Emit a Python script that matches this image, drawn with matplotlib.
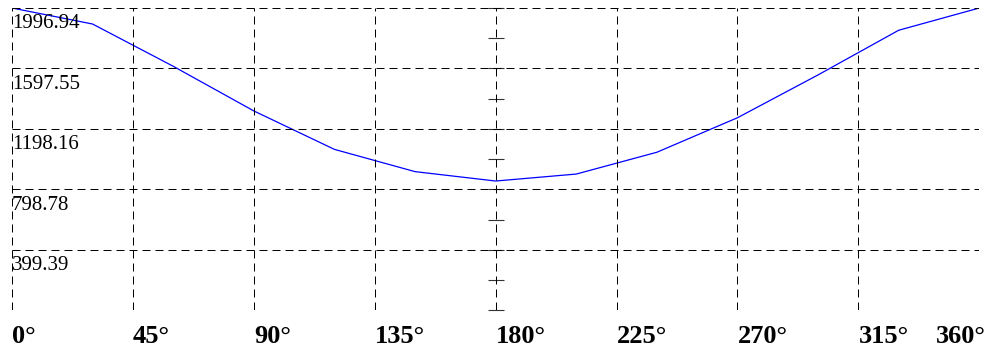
import matplotlib
matplotlib.use("Agg")
import matplotlib.pyplot as plt
import matplotlib.transforms as mtransforms

# Data
angles = [0, 30, 60, 90, 120, 150, 180, 210, 240, 270, 300, 330, 360]
values = [1996.94, 1891, 1612, 1317, 1063, 916, 854, 900, 1044, 1272, 1555, 1850, 1996.94]
x_ticks = [0, 45, 90, 135, 180, 225, 270, 315, 360]
x_labels = ["0°", "45°", "90°", "135°", "180°", "225°", "270°", "315°", "360°"]
y_ticks = [0, 399.39, 798.78, 1198.16, 1597.55, 1996.94]
y_labels = ["", "399.39", "798.78", "1198.16", "1597.55", "1996.94"]
y_minor = [199.69, 599.08, 998.47, 1397.86, 1797.25]

W, H, DPI = 991, 354, 100
fig = plt.figure(figsize=(W / DPI, H / DPI), dpi=DPI)
ax = fig.add_axes([12 / W, (H - 310.3) / H, (979.3 - 12) / W, (310.3 - 8) / H])

ax.plot(angles, values, color="#0000ff", lw=0.9, solid_joinstyle="miter")

ax.set_xlim(0, 360)
ax.set_ylim(0, 1996.94)
ax.set_xticks(x_ticks)
ax.set_xticklabels(x_labels)
ax.set_yticks(y_ticks)
ax.set_yticklabels(y_labels)

for s in ax.spines.values():
    s.set_visible(False)

ax.grid(True, color="black", lw=0.72, linestyle=(0, (8, 5)))
ax.set_axisbelow(False)

ax.tick_params(axis="x", length=0, pad=10.5)
ax.tick_params(axis="y", length=0, pad=0)

px = 1 / DPI
for lab in ax.get_xticklabels():
    lab.set_fontfamily("Liberation Serif")
    lab.set_fontweight("bold")
    lab.set_fontsize(19)
    lab.set_ha("left")
last = ax.get_xticklabels()[-1]
last.set_ha("right")
last.set_transform(last.get_transform() + mtransforms.ScaledTranslation(6 * px, 0, fig.dpi_scale_trans))

for lab in ax.get_yticklabels():
    lab.set_fontfamily("Liberation Serif")
    lab.set_fontsize(15)
    lab.set_ha("left")
    lab.set_va("top")
    lab.set_transform(lab.get_transform() + mtransforms.ScaledTranslation(0, -6.5 * px, fig.dpi_scale_trans))

# central axis with ticks at 180°
sec = ax.secondary_yaxis(0.5)
for s in sec.spines.values():
    s.set_visible(False)
sec.set_yticks(y_ticks)
sec.set_yticks(y_minor, minor=True)
sec.tick_params(axis="y", which="both", direction="inout", length=11.5, width=0.8,
                color="#333333", labelleft=False, labelright=False)

fig.savefig("out.png", dpi=DPI)
